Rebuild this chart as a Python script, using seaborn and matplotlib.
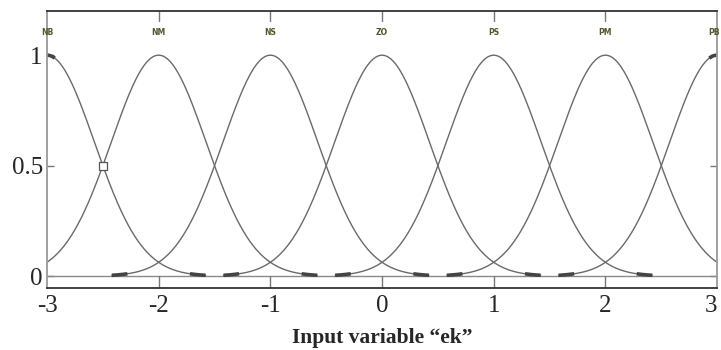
import numpy as np
import pandas as pd
import matplotlib
matplotlib.use("Agg")
import matplotlib.pyplot as plt
import seaborn as sns

# Gaussian membership functions of the input "ek"
labels = ["NB", "NM", "NS", "ZO", "PS", "PM", "PB"]
centers = [-3, -2, -1, 0, 1, 2, 3]
sigma = 0.4247
half_span = 1.42          # each curve is evaluated on [c - half_span, c + half_span]
tail = 0.14               # heavier stroke on the last piece of every curve
x_ticks = [-3, -2, -1, 0, 1, 2, 3]
y_ticks = [0, 0.5, 1]
y_ticklabels = ["0", "0.5", "1"]
marker_point = (-2.5, 0.5)

sns.set_theme(style="white")
plt.rcParams["font.family"] = ["Liberation Serif", "DejaVu Serif"]

fig = plt.figure(figsize=(7.21, 3.5), dpi=100)
ax = fig.add_axes([0.0652, 0.177, 0.9294, 0.7916])
xmin, xmax = -3, 3

def gauss(x, c):
    return np.exp(-((x - c) ** 2) / (2 * sigma ** 2))

line_col = "#6a6a6a"
frames = []
for name, c in zip(labels, centers):
    lo, hi = max(c - half_span, xmin), min(c + half_span, xmax)
    xs = np.linspace(lo, hi, 300)
    frames.append(pd.DataFrame({"x": xs, "mu": gauss(xs, c), "set": name}))
df = pd.concat(frames, ignore_index=True)

sns.lineplot(data=df, x="x", y="mu", units="set", estimator=None,
             color=line_col, lw=1.0, ax=ax, legend=False)

# heavier strokes at the ends of each curve
for c in centers:
    lo, hi = c - half_span, c + half_span
    ends = []
    if lo >= xmin:
        ends.append((lo, lo + tail))
    elif c == xmin:
        ends.append((xmin, xmin + 0.07))
    if hi <= xmax:
        ends.append((hi - tail, hi))
    elif c == xmax:
        ends.append((xmax - 0.07, xmax))
    for a, b in ends:
        xs = np.linspace(a, b, 20)
        ax.plot(xs, gauss(xs, c), color="#444444", lw=2.6, solid_capstyle="butt")

# zero reference line
ax.axhline(0, color="#8a8a8a", lw=1.0, zorder=1)

# crossing marker
ax.plot([marker_point[0]], [marker_point[1]], marker="s", ms=5.5, mfc="white",
        mec="#555555", mew=0.9, zorder=5)

# set names above each peak, with short ticks from the top border
for name, c in zip(labels, centers):
    ha = "right" if c == xmax else "center"
    xpos = c + 0.02 if c == xmax else c
    ax.text(xpos, 1.104, name, ha=ha, va="center", fontsize=5.5,
            color="#55552a", family="DejaVu Sans", fontweight="bold")
    if xmin < c < xmax:
        ax.plot([c, c], [1.2, 1.155], color="#777777", lw=1.0)
        ax.plot([c, c], [-0.054, 0.0], color="#777777", lw=1.0)

ax.set_xlim(xmin, xmax)
ax.set_ylim(-0.054, 1.2)
ax.set_xticks(x_ticks)
ax.set_xticklabels([str(t) for t in x_ticks], fontsize=18)
ax.get_xticklabels()[-1].set_horizontalalignment("right")
ax.set_yticks(y_ticks)
ax.set_yticklabels(y_ticklabels, fontsize=18)
ax.tick_params(axis="x", length=0, pad=5)
ax.tick_params(axis="y", direction="in", length=5, width=1.0, color="#777777",
               right=True, left=True, pad=3)
ax.set_xlabel("Input variable \u201cek\u201d", fontsize=15.5, fontweight="bold",
              labelpad=8)
ax.set_ylabel("")

for side in ["top", "bottom"]:
    ax.spines[side].set_color("#333333")
    ax.spines[side].set_linewidth(1.3)
for side in ["left", "right"]:
    ax.spines[side].set_color("#999999")
    ax.spines[side].set_linewidth(1.3)

fig.savefig("out.png", dpi=100, facecolor="white")
